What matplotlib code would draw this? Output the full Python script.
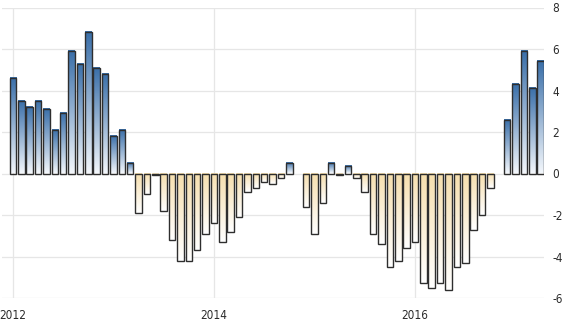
import numpy as np
import pandas as pd
import matplotlib
matplotlib.use('Agg')
import matplotlib.pyplot as plt
from matplotlib.colors import LinearSegmentedColormap

plt.rcParams['font.family'] = ['Liberation Sans Narrow', 'DejaVu Sans']
plt.rcParams['font.stretch'] = 'condensed'

# monthly values, Jan 2012 .. Apr 2017 (None = no reading)
months = pd.date_range('2012-01-01', '2017-04-01', freq='MS')
values = [
    4.6, 3.5, 3.2, 3.5, 3.1, 2.1, 2.9, 5.9, 5.3, 6.8, 5.1, 4.8,
    1.8, 2.1, 0.5, -1.9, -1.0, -0.05, -1.8, -3.2, -4.2, -4.2, -3.7, -2.9,
    -2.4, -3.3, -2.8, -2.1, -0.9, -0.7, -0.4, -0.5, -0.2, 0.5, None, -1.6,
    -2.9, -1.4, 0.5, -0.05, 0.35, -0.2, -0.9, -2.9, -3.4, -4.5, -4.2, -3.6,
    -3.3, -5.3, -5.5, -5.3, -5.6, -4.5, -4.3, -2.7, -2.0, -0.7, None, 2.6,
    4.3, 5.9, 4.1, 5.4,
]
year_ticks = ['2012', '2014', '2016']
y_ticks = [-6, -4, -2, 0, 2, 4, 6, 8]

pos_cmap = LinearSegmentedColormap.from_list('pos', ['#f2f6fb', '#3a6fa9'])
neg_cmap = LinearSegmentedColormap.from_list('neg', ['#ffffff', '#f6dfae'])

fig = plt.figure(figsize=(5.66, 3.27), dpi=100)
ax = fig.add_axes([2 / 566, 1 - 298 / 327, 542 / 566, (298 - 7.5) / 327])

x = np.arange(len(months))
width = 0.78
grad = np.linspace(0, 1, 64).reshape(-1, 1)

for xi, v in zip(x, values):
    if v is None:
        continue
    cmap = pos_cmap if v > 0 else neg_cmap
    lo, hi = min(0, v), max(0, v)
    ax.imshow(grad, cmap=cmap, aspect='auto', origin='lower',
              extent=[xi - width / 2, xi + width / 2, lo, hi], zorder=2,
              interpolation='bilinear')
    ax.bar(xi, v, width=width, facecolor='none', edgecolor='#2e2e2e',
           linewidth=1.0, zorder=3)

tick_pos = [list(months.year.astype(str)).index(y) for y in year_ticks]
ax.set_xlim(-1.3, len(months) - 0.6)
ax.set_ylim(-6, 8)
ax.set_xticks(tick_pos)
ax.set_xticklabels(year_ticks)
ax.set_yticks(y_ticks)
ax.set_yticklabels([str(t) for t in y_ticks])
ax.yaxis.tick_right()
ax.tick_params(axis='both', length=0, labelsize=8.5, colors='#2a2a2a')
ax.tick_params(axis='y', pad=6)
ax.tick_params(axis='x', pad=8)
ax.grid(True, color='#e6e6e6', linewidth=0.9, zorder=0)
ax.set_axisbelow(True)
for s in ax.spines.values():
    s.set_visible(False)

fig.savefig('out.png', dpi=100)
